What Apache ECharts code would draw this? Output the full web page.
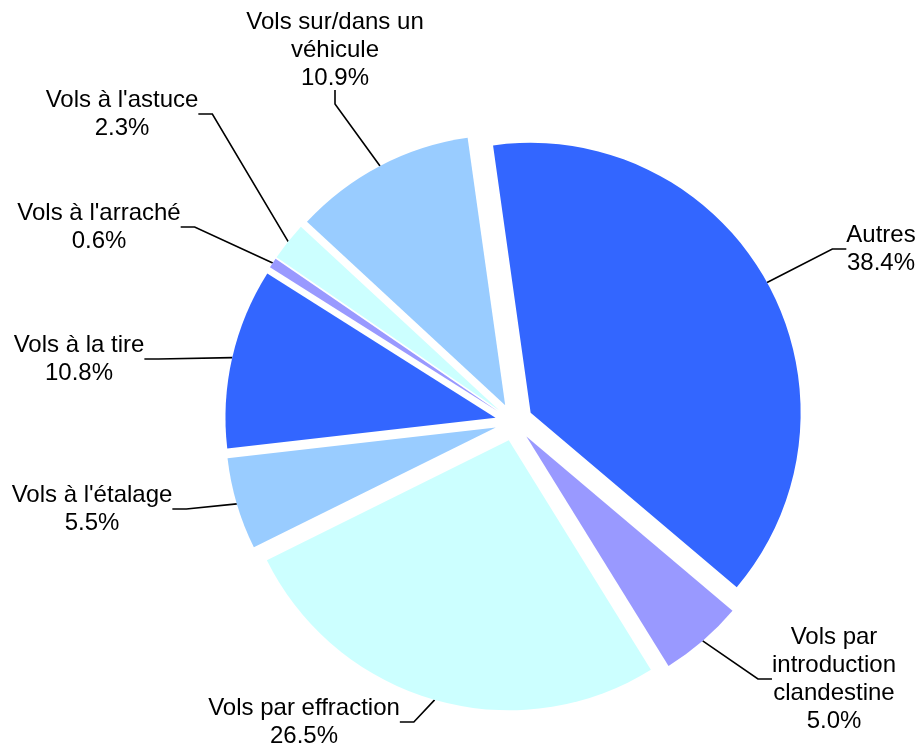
<!DOCTYPE html>
<html>
<head>
<meta charset="utf-8">
<style>
  html, body { margin: 0; padding: 0; background: #fff; }
  #chart { width: 919px; height: 749px; }
</style>
<script src="https://cdn.jsdelivr.net/npm/echarts@6/dist/echarts.min.js"></script>
</head>
<body>
<div id="chart"></div>
<script>
// categories, clockwise from the top
const categories = [
  'Autres',
  'Vols par\nintroduction\nclandestine',
  'Vols par effraction',
  "Vols à l'étalage",
  'Vols à la tire',
  "Vols à l'arraché",
  "Vols à l'astuce",
  'Vols sur/dans un\nvéhicule'
]
// share of each category, in percent
const shares = [38.4, 5.0, 26.5, 5.5, 10.8, 0.6, 2.3, 10.9]
const palette = ['#3366ff', '#9999ff', '#ccffff', '#99ccff']

// where each label block is centred (label layout only)
const labelSpots = [
  [881, 249], [834, 679], [304, 722], [92, 509],
  [79, 359], [99, 227], [122, 114], [335, 50]
]

const font = 'Liberation Sans, Arial, sans-serif'
const center = [514, 422]
const radius = 270
const explode = 19

const chart = echarts.init(document.getElementById('chart'))

const option = {
  animation: false,
  textStyle: { fontFamily: font },
  series: [
    {
      // exploded slices
      type: 'pie',
      center: center,
      radius: radius,
      startAngle: 98,
      clockwise: true,
      selectedMode: 'multiple',
      selectedOffset: explode,
      emphasis: { disabled: true },
      label: { show: false },
      labelLine: { show: false },
      data: categories.map((name, i) => ({
        name: name,
        value: shares[i],
        selected: true,
        itemStyle: { color: palette[i % palette.length] }
      }))
    },
    {
      // invisible twin that carries the labels, its rim on the exploded arcs
      type: 'pie',
      center: center,
      radius: radius + explode,
      startAngle: 98,
      clockwise: true,
      silent: true,
      avoidLabelOverlap: false,
      emphasis: { disabled: true },
      itemStyle: { color: 'rgba(0,0,0,0)', borderWidth: 0 },
      data: categories.map((name, i) => ({ name: name, value: shares[i] })),
      label: {
        show: true,
        position: 'outside',
        color: '#000',
        formatter: (p) => '{t|' + p.name + '\n' + p.value.toFixed(1) + '%}',
        rich: {
          t: { align: 'center', fontSize: 24, lineHeight: 28, color: '#000', fontFamily: font }
        }
      },
      labelLine: {
        show: true,
        length: 20,
        length2: 14,
        lineStyle: { color: '#000', width: 1.6 }
      },
      labelLayout: (p) => ({
        x: labelSpots[p.dataIndex][0],
        y: labelSpots[p.dataIndex][1],
        align: 'center',
        verticalAlign: 'middle'
      })
    }
  ]
}

chart.setOption(option)
</script>
</body>
</html>
